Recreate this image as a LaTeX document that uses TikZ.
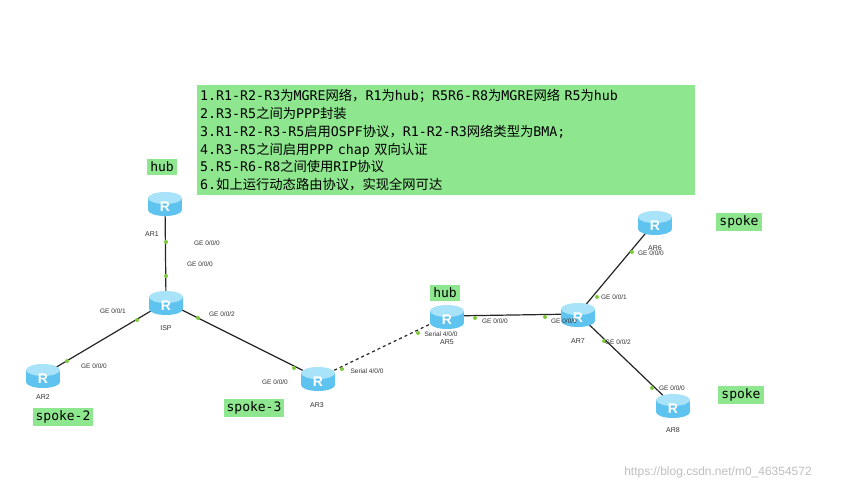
\documentclass[tikz,border=0pt]{standalone}
\usepackage{fontspec}
\setmainfont{Liberation Sans}
\newfontfamily\monof{DejaVu Sans Mono}
\newfontfamily\cjk{Noto Sans CJK SC}
\definecolor{lbl}{HTML}{8EE68E}
\definecolor{dotg}{HTML}{7DCB3A}
\definecolor{rtop}{HTML}{A9E3FA}
\definecolor{rbody}{HTML}{5FC3F0}
\tikzset{
  lab/.style={fill=lbl,inner xsep=3pt,inner ysep=2.5pt,font=\monof\fontsize{13}{13}\selectfont},
  port/.style={font=\fontsize{6.5}{7}\selectfont,text=black!80,inner sep=0pt},
  rname/.style={font=\fontsize{7}{8}\selectfont,text=black!80,inner sep=0pt},
  dot/.style={circle,fill=dotg,inner sep=0pt,minimum size=4pt},
  rt/.style={inner sep=0pt,minimum width=34pt,minimum height=26pt},
  link/.style={line width=1.2pt,black!85},
  pics/router/.style={code={
    \fill[rbody] (0,7) ellipse[x radius=17,y radius=6];
    \fill[rbody] (-17,-5) rectangle (17,7);
    \fill[rtop] (0,-5) ellipse[x radius=17,y radius=6];
    \node[text=white,font=\bfseries\fontsize{14}{14}\selectfont] at (0,4) {R};
  }}
}
\begin{document}
\begin{tikzpicture}[x=1pt,y=-1pt]
\useasboundingbox (0,0) rectangle (851,491);
\fill[white] (0,0) rectangle (851,491);
\node[rt] (ar1) at (165,203) {};
\node[rt] (isp) at (166,302) {};
\node[rt] (ar2) at (43,375) {};
\node[rt] (ar3) at (318,378) {};
\node[rt] (ar5) at (447,316) {};
\node[rt] (ar7) at (578,314) {};
\node[rt] (ar6) at (655,222) {};
\node[rt] (ar8) at (673,405) {};
\draw[link] (ar1.center) -- (isp.center);
\draw[link] (isp.center) -- (ar2.center);
\draw[link] (isp.center) -- (ar3.center);
\draw[link,dashed] (ar3.center) -- (ar5.center);
\draw[link] (ar5.center) -- (ar7.center);
\draw[link] (ar7.center) -- (ar6.center);
\draw[link] (ar7.center) -- (ar8.center);
\foreach \n in {ar1,isp,ar2,ar3,ar5,ar7,ar6,ar8} \pic at (\n.center) {router};
\foreach \p in {(166,242),(166,276),(137,320),(67,361),(198,318),(294,368),(342,369),(418,333),(475,318),(545,317),(597,297),(632,252),(604,341),(652,388)} \node[dot] at \p {};
\node[rname] at (152,234) {AR1};
\node[rname] at (166,328) {ISP};
\node[rname] at (43,397) {AR2};
\node[rname] at (317,405) {AR3};
\node[rname] at (447,342) {AR5};
\node[rname] at (578,341) {AR7};
\node[rname] at (655,248) {AR6};
\node[rname] at (673,430) {AR8};
\node[port] at (207,243) {GE 0/0/0};
\node[port] at (200,264) {GE 0/0/0};
\node[port] at (113,311) {GE 0/0/1};
\node[port] at (222,314) {GE 0/0/2};
\node[port] at (94,366) {GE 0/0/0};
\node[port] at (275,382) {GE 0/0/0};
\node[port] at (367,371) {Serial 4/0/0};
\node[port] at (441,334) {Serial 4/0/0};
\node[port] at (495,321) {GE 0/0/0};
\node[port] at (564,321) {GE 0/0/0};
\node[port] at (614,297) {GE 0/0/1};
\node[port] at (651,253) {GE 0/0/0};
\node[port] at (618,342) {GE 0/0/2};
\node[port] at (672,388) {GE 0/0/0};
\node[lab] (l1) at (162,167) {hub};
\node[lab] (l2) at (63,417) {spoke-2};
\node[lab] (l3) at (254,408) {spoke-3};
\node[lab] (l4) at (445,293) {hub};
\node[lab] (l5) at (739,222) {spoke};
\node[lab] (l6) at (741,395) {spoke};
\node[fill=lbl,anchor=north west,minimum width=498pt,minimum height=110pt,inner sep=3pt,text width=492pt,align=left,font=\monof\fontsize{13.3}{17.8}\selectfont] (txt) at (197,85) {%
1.R1-R2-R3{\cjk 为}MGRE{\cjk 网络，}R1{\cjk 为}hub{\cjk ；}R5R6-R8{\cjk 为}MGRE{\cjk 网络} R5{\cjk 为}hub\\
2.R3-R5{\cjk 之间为}PPP{\cjk 封装}\\
3.R1-R2-R3-R5{\cjk 启用}OSPF{\cjk 协议，}R1-R2-R3{\cjk 网络类型为}BMA;\\
4.R3-R5{\cjk 之间启用}PPP chap {\cjk 双向认证}\\
5.R5-R6-R8{\cjk 之间使用}RIP{\cjk 协议}\\
6.{\cjk 如上运行动态路由协议，实现全网可达}};
\node[text=black!25,font=\fontsize{12}{13}\selectfont] (wm) at (718,472) {https://blog.csdn.net/m0\_46354572};
\end{tikzpicture}
\end{document}
